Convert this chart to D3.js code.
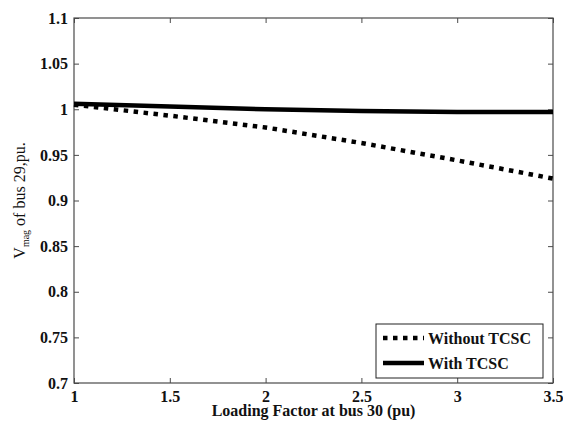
<!DOCTYPE html>
<html>
<head>
<meta charset="utf-8">
<script src="https://cdn.jsdelivr.net/npm/d3@7"></script>
<style>
  body { margin: 0; background: #fff; }
  svg { display: block; font-family: "Liberation Serif", "Times New Roman", serif; }
</style>
</head>
<body>
<div id="chart"></div>
<script>
const loadFactor = [1, 1.5, 2, 2.5, 3, 3.5];
const withoutTcsc = [1.005, 0.993, 0.980, 0.963, 0.944, 0.924];
const withTcsc = [1.006, 1.003, 1.000, 0.998, 0.997, 0.997];
const xTicks = [1, 1.5, 2, 2.5, 3, 3.5];
const yTicks = [0.7, 0.75, 0.8, 0.85, 0.9, 0.95, 1, 1.05, 1.1];
const seriesNames = ["Without TCSC", "With TCSC"];

const width = 563;
const height = 423;
const margin = { top: 18, right: 10, bottom: 40, left: 74 };
const innerWidth = width - margin.left - margin.right;
const innerHeight = height - margin.top - margin.bottom;
const serif = "'Liberation Serif', 'Times New Roman', serif";

const svg = d3.select("#chart").append("svg")
  .attr("width", width)
  .attr("height", height);

const plot = svg.append("g")
  .attr("transform", `translate(${margin.left},${margin.top})`);

const x = d3.scaleLinear().domain([1, 3.5]).range([0, innerWidth]);
const y = d3.scaleLinear().domain([0.7, 1.1]).range([innerHeight, 0]);

const axisColor = "#4a4a4a";

function styleAxis(g) {
  g.attr("font-family", serif).attr("font-size", 16);
  g.select(".domain").remove();
  g.selectAll(".tick line").attr("stroke", axisColor).attr("stroke-width", 1);
  g.selectAll(".tick text")
    .attr("font-family", serif)
    .attr("font-weight", "bold")
    .attr("fill", "#111");
}

function noLabels(g) {
  g.selectAll(".tick text").remove();
}

// ticks point inward like MATLAB
plot.append("g")
  .attr("transform", `translate(0,${innerHeight})`)
  .call(d3.axisBottom(x).tickValues(xTicks).tickSize(-5).tickPadding(8).tickFormat(d3.format("")))
  .call(styleAxis);
plot.append("g")
  .call(d3.axisTop(x).tickValues(xTicks).tickSize(-5))
  .call(styleAxis)
  .call(noLabels);
plot.append("g")
  .call(d3.axisLeft(y).tickValues(yTicks).tickSize(-5).tickPadding(6).tickFormat(d3.format("")))
  .call(styleAxis);
plot.append("g")
  .attr("transform", `translate(${innerWidth},0)`)
  .call(d3.axisRight(y).tickValues(yTicks).tickSize(-5))
  .call(styleAxis)
  .call(noLabels);

plot.append("rect")
  .attr("width", innerWidth)
  .attr("height", innerHeight)
  .attr("fill", "none")
  .attr("stroke", axisColor)
  .attr("stroke-width", 1.2);

const line = d3.line()
  .x((d, i) => x(loadFactor[i]))
  .y((d) => y(d));

plot.append("path")
  .attr("d", line(withoutTcsc))
  .attr("fill", "none")
  .attr("stroke", "#000")
  .attr("stroke-width", 4.5)
  .attr("stroke-dasharray", "4.5,5.5");

plot.append("path")
  .attr("d", line(withTcsc))
  .attr("fill", "none")
  .attr("stroke", "#000")
  .attr("stroke-width", 4.5);

// legend
const legend = svg.append("g").attr("transform", "translate(376,324)");
legend.append("rect")
  .attr("width", 167)
  .attr("height", 54)
  .attr("fill", "#fff")
  .attr("stroke", "#222")
  .attr("stroke-width", 1);

seriesNames.forEach((name, i) => {
  const row = legend.append("g").attr("transform", `translate(0,${14 + i * 25})`);
  row.append("line")
    .attr("x1", 7).attr("x2", 48)
    .attr("stroke", "#000")
    .attr("stroke-width", 4.5)
    .attr("stroke-dasharray", i === 0 ? "4.5,5.5" : null);
  row.append("text")
    .attr("x", 52)
    .attr("dy", "0.35em")
    .attr("font-size", 16)
    .attr("font-weight", "bold")
    .attr("fill", "#111")
    .text(name);
});

// axis labels
svg.append("text")
  .attr("x", margin.left + innerWidth / 2)
  .attr("y", 416)
  .attr("text-anchor", "middle")
  .attr("font-size", 16)
  .attr("font-weight", "bold")
  .attr("fill", "#111")
  .text("Loading Factor at bus 30 (pu)");

const ylab = svg.append("text")
  .attr("transform", `translate(25,${margin.top + innerHeight / 2}) rotate(-90)`)
  .attr("text-anchor", "middle")
  .attr("font-size", 16)
  .attr("fill", "#111");
ylab.append("tspan").text("V");
ylab.append("tspan").attr("font-size", 10).attr("dy", 4).text("mag");
ylab.append("tspan").attr("dy", -4).text(" of bus 29,pu.");
</script>
</body>
</html>
